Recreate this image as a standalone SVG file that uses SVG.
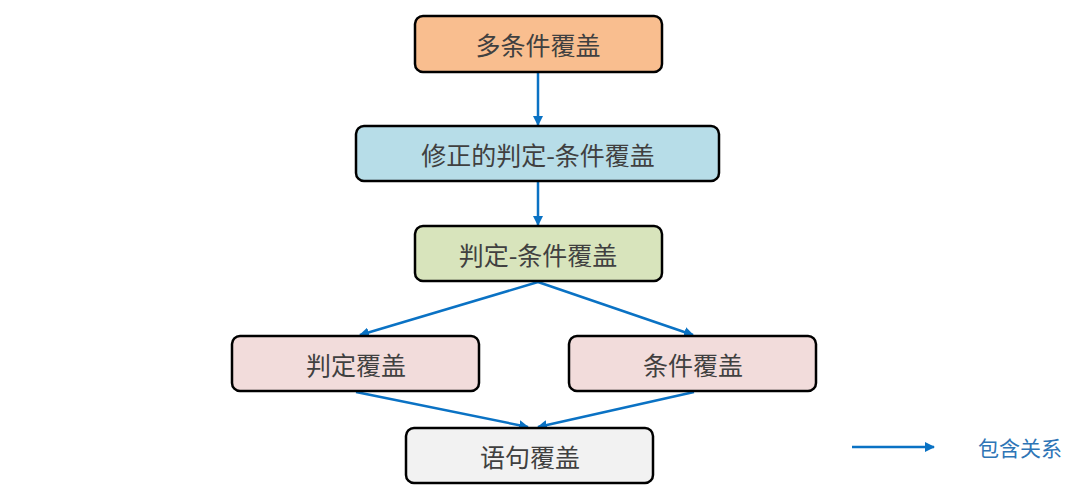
<svg xmlns="http://www.w3.org/2000/svg" width="1080" height="502" viewBox="0 0 1080 502">
<style>
.box{stroke:#000;stroke-width:2.5}
.t{font-family:"Noto Sans CJK SC","Liberation Sans",sans-serif;font-size:25px;fill:#404040;text-anchor:middle;dominant-baseline:central}
.c{stroke:#0a72c4;stroke-width:2.5;fill:none;marker-end:url(#ah)}
</style>
<defs>
<marker id="ah" viewBox="0 0 10 10" refX="9" refY="5" markerWidth="4" markerHeight="4" orient="auto" markerUnits="strokeWidth">
<path d="M0,0 L10,5 L0,10 z" fill="#0a72c4"/>
</marker>
</defs>
<rect width="1080" height="502" fill="#fff"/>
<g id="connectors">
<line class="c" x1="538" y1="73" x2="538" y2="125"/>
<line class="c" x1="538" y1="182" x2="538" y2="225"/>
<line class="c" x1="538" y1="282" x2="360" y2="335"/>
<line class="c" x1="538" y1="282" x2="693" y2="335"/>
<line class="c" x1="356" y1="392" x2="528" y2="427"/>
<line class="c" x1="694" y1="392" x2="538" y2="427"/>
</g>
<g id="n1"><rect class="box" x="415" y="16" width="247" height="56" rx="8" fill="#f9be8f"/><text class="t" x="538" y="44">多条件覆盖</text></g>
<g id="n2"><rect class="box" x="356" y="126" width="363" height="55" rx="8" fill="#b7dde8"/><text class="t" x="538" y="154">修正的判定-条件覆盖</text></g>
<g id="n3"><rect class="box" x="415" y="226" width="247" height="55" rx="8" fill="#d8e4bc"/><text class="t" x="538" y="254">判定-条件覆盖</text></g>
<g id="n4"><rect class="box" x="232" y="336" width="247" height="55" rx="8" fill="#f2dcdb"/><text class="t" x="356" y="364">判定覆盖</text></g>
<g id="n5"><rect class="box" x="569" y="336" width="247" height="55" rx="8" fill="#f2dcdb"/><text class="t" x="693" y="364">条件覆盖</text></g>
<g id="n6"><rect class="box" x="406" y="428" width="247" height="55" rx="8" fill="#f2f2f2"/><text class="t" x="530" y="456">语句覆盖</text></g>
<g id="legend">
<line class="c" x1="852" y1="447" x2="934" y2="447"/>
<text x="1020" y="447" style="font-family:'Noto Sans CJK SC',sans-serif;font-size:21px;fill:#2e75b6;text-anchor:middle;dominant-baseline:central">包含关系</text>
</g>
</svg>
